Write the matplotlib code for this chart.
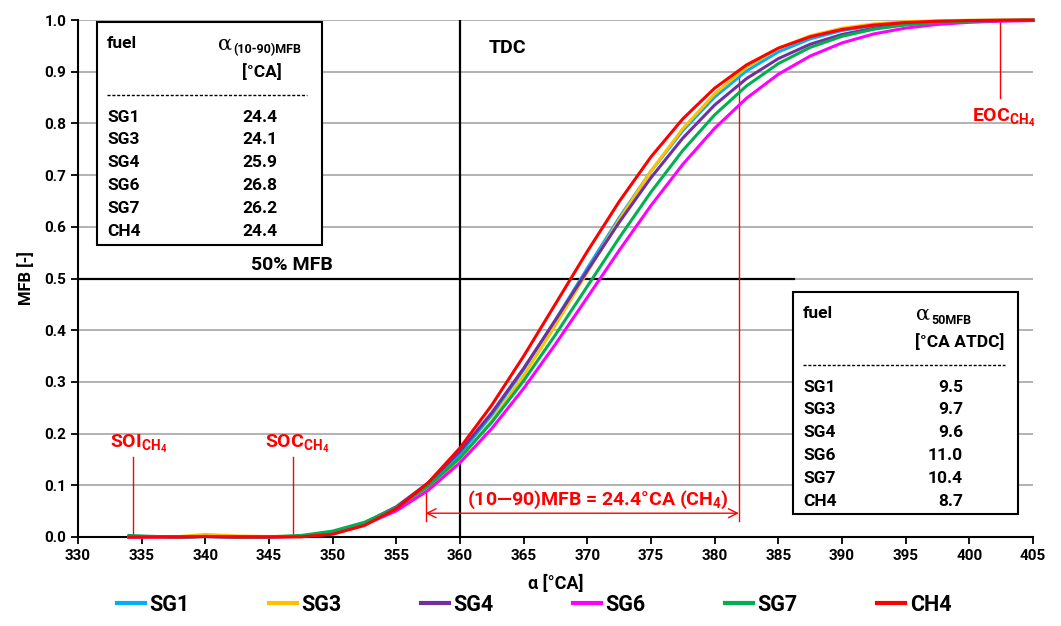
import matplotlib.pyplot as plt
from matplotlib.patches import Rectangle
from matplotlib.lines import Line2D

FONT = 'Roboto'
plt.rcParams['font.family'] = [FONT, 'DejaVu Sans']
plt.rcParams['font.weight'] = 'bold'
plt.rcParams['axes.labelweight'] = 'bold'
plt.rcParams['mathtext.fontset'] = 'custom'
plt.rcParams['mathtext.rm'] = FONT + ':bold'
plt.rcParams['mathtext.it'] = FONT + ':bold'
plt.rcParams['mathtext.bf'] = FONT + ':bold'

# crank angle [deg CA] and mass fraction burned
theta = [334, 336, 338, 340, 342.5, 345, 347.5, 350, 352.5, 355, 357.5, 360,
         362.5, 365, 367.5, 370, 372.5, 375, 377.5, 380, 382.5, 385, 387.5,
         390, 392.5, 395, 397.5, 400, 402.5, 405]

mfb_sg1 = [0, 0.001, 0, 0.001, 0, 0, 0.0016, 0.0089, 0.0258, 0.0555, 0.1002,
           0.1606, 0.2360, 0.3238, 0.4203, 0.5200, 0.6175, 0.7076, 0.7863,
           0.8511, 0.9015, 0.9383, 0.9635, 0.9797, 0.9894, 0.9948, 0.9976,
           0.9990, 0.9996, 0.9999]
mfb_sg3 = [0, 0, 0.001, 0.005, 0.002, 0.001, 0.0020, 0.0091, 0.0247, 0.0521,
           0.0939, 0.1515, 0.2251, 0.3124, 0.4099, 0.5123, 0.6137, 0.7078,
           0.7900, 0.8572, 0.9087, 0.9452, 0.9694, 0.9841, 0.9924, 0.9966,
           0.9986, 0.9995, 0.9998, 1.0]
mfb_sg4 = [0, 0.001, 0, 0.001, 0, 0, 0.0014, 0.0093, 0.0273, 0.0586, 0.1046,
           0.1657, 0.2405, 0.3264, 0.4196, 0.5152, 0.6086, 0.6951, 0.7716,
           0.8356, 0.8867, 0.9253, 0.9531, 0.9720, 0.9841, 0.9914, 0.9956,
           0.9979, 0.9990, 0.9996]
mfb_sg6 = [0, 0, 0, 0.001, 0, 0, 0.0014, 0.0082, 0.0238, 0.0506, 0.0903,
           0.1436, 0.2099, 0.2874, 0.3731, 0.4635, 0.5542, 0.6412, 0.7209,
           0.7906, 0.8487, 0.8951, 0.9303, 0.9557, 0.9731, 0.9844, 0.9914,
           0.9955, 0.9977, 0.9989]
mfb_sg7 = [0.003, 0.001, 0, 0.001, 0, 0.0002, 0.0029, 0.0114, 0.0285, 0.0568,
           0.0982, 0.1534, 0.2221, 0.3023, 0.3913, 0.4849, 0.5785, 0.6673,
           0.7477, 0.8166, 0.8725, 0.9157, 0.9470, 0.9684, 0.9822, 0.9906,
           0.9953, 0.9978, 0.9990, 0.9996]
mfb_ch4 = [0, 0, 0, 0.001, 0, 0, 0.0002, 0.0054, 0.0223, 0.0548, 0.1049,
           0.1724, 0.2553, 0.3499, 0.4510, 0.5525, 0.6488, 0.7354, 0.8089,
           0.8682, 0.9131, 0.9455, 0.9676, 0.9817, 0.9902, 0.9951, 0.9976,
           0.9989, 0.9995, 0.9998]

fuels = ['SG1', 'SG3', 'SG4', 'SG6', 'SG7', 'CH4']
series = [mfb_sg1, mfb_sg3, mfb_sg4, mfb_sg6, mfb_sg7, mfb_ch4]
colors = ['#00B0F0', '#FFC000', '#7030A0', '#FF00FF', '#00B050', '#FF0000']

dur_1090 = ['24.4', '24.1', '25.9', '26.8', '26.2', '24.4']
a50 = ['9.5', '9.7', '9.6', '11.0', '10.4', '8.7']

xticks = list(range(330, 406, 5))
yticks = [i / 10 for i in range(11)]

# combustion markers for CH4
soi, soc, eoc = 334.3, 346.9, 402.4
a10, a90 = 357.3, 381.9

W, H = 1061, 626
fig = plt.figure(figsize=(W / 100, H / 100), dpi=100)
ax = fig.add_axes([78 / W, 1 - 537 / H, (1033 - 78) / W, (537 - 20) / H])


def fx(x):
    return x / W


def fy(y):
    return 1 - y / H


for name, vals, c in zip(fuels, series, colors):
    ax.plot(theta, vals, color=c, lw=2.2, label=name, clip_on=False, zorder=3,
            solid_joinstyle='round')

ax.set_xlim(330, 405)
ax.set_ylim(0, 1.0)
ax.set_xticks(xticks, [str(t) for t in xticks], fontweight='bold',
              fontsize=11)
ax.set_yticks(yticks, ['%.1f' % t for t in yticks], fontweight='bold',
              fontsize=11)
ax.tick_params(length=5, width=1.3, color='black')
ax.grid(axis='y', color='#a6a6a6', lw=1.2)
ax.set_axisbelow(True)
for s in ['top', 'right']:
    ax.spines[s].set_visible(False)
for s in ['left', 'bottom']:
    ax.spines[s].set_linewidth(1.5)
ax.set_xlabel('α [°CA]', fontsize=13, fontweight='bold', labelpad=9)
ax.set_ylabel('MFB [-]', fontsize=12, fontweight='bold', labelpad=7)

# TDC and 50 % lines
ax.plot([360, 360], [0, 1], color='black', lw=1.6, zorder=2)
ax.plot([330, 386.2], [0.5, 0.5], color='black', lw=1.6, zorder=2)
ax.text(363.7, 0.945, 'TDC', fontsize=14, ha='center', va='center')
ax.text(346.8, 0.527, '50% MFB', fontsize=14, ha='center', va='center')

# red annotations
red = '#FF0000'
ax.plot([soi, soi], [0, 0.155], color=red, lw=1)
ax.plot([soc, soc], [0, 0.155], color=red, lw=1)
ax.plot([eoc, eoc], [1.0, 0.85], color=red, lw=1)
ax.plot([a10, a10], [0.1, 0.03], color=red, lw=1)
ax.plot([a90, a90], [0.9, 0.03], color=red, lw=1)
ax.annotate('', xy=(a10, 0.046), xytext=(a90, 0.046),
            arrowprops=dict(arrowstyle='<->', color=red, lw=1,
                            shrinkA=0, shrinkB=0, mutation_scale=16))
ax.text(370.8, 0.072, '(10—90)MFB = 24.4°CA (CH$_4$)', color=red,
        fontsize=14, ha='center', va='center')
ax.text(soi + 0.5, 0.18, 'SOI$_{\\mathrm{CH}_4}$', color=red, fontsize=14,
        ha='center', va='center')
ax.text(soc + 0.3, 0.18, 'SOC$_{\\mathrm{CH}_4}$', color=red, fontsize=14,
        ha='center', va='center')
ax.text(eoc + 0.3, 0.81, 'EOC$_{\\mathrm{CH}_4}$', color=red, fontsize=14,
        ha='center', va='center')


# tables
def table(x0, y0, x1, y1, sub, unit, values, val_x, val_ha, alpha_x, dash_x1):
    fig.add_artist(Rectangle((fx(x0), fy(y1)), fx(x1 - x0), (y1 - y0) / H,
                             facecolor='white', edgecolor='black', lw=1.5,
                             zorder=5))
    fig.text(fx(x0 + 10), fy(y0 + 21), 'fuel', fontsize=12.5, va='center',
             zorder=6)
    fig.text(fx(alpha_x), fy(y0 + 22), 'α', fontsize=15, fontweight='normal',
             family=['DejaVu Serif'], ha='right', va='center', zorder=6)
    fig.text(fx(alpha_x + 1), fy(y0 + 28), sub, fontsize=9, ha='left',
             va='center', zorder=6)
    fig.text(fx(alpha_x + 30), fy(y0 + 50), unit, fontsize=12.5, ha='center',
             va='center', zorder=6)
    fig.add_artist(Line2D([fx(x0 + 10), fx(dash_x1)], [fy(y0 + 73)] * 2,
                          color='black', lw=1, ls=(0, (2.2, 1.3)), zorder=6))
    for i, (f, v) in enumerate(zip(fuels, values)):
        yy = fy(y0 + 95 + i * 22.8)
        fig.text(fx(x0 + 10), yy, f, fontsize=12.5, va='center', zorder=6)
        fig.text(fx(val_x), yy, v, fontsize=12.5, ha=val_ha, va='center',
                 zorder=6)


table(97, 22, 322, 245, '(10-90)MFB', '[°CA]', dur_1090, 260, 'center', 232, 307)
table(793, 292, 1018, 514, '50MFB', '[°CA ATDC]', a50, 963, 'right', 930, 1005)

handles = [Line2D([], [], color=c, lw=3) for c in colors]
fig.legend(handles, fuels, loc='center', bbox_to_anchor=(fx(534), fy(605)),
           ncol=6, frameon=False, handlelength=1.3, handletextpad=0.2,
           columnspacing=3.7, prop={'weight': 'bold', 'size': 15.5})

fig.savefig('out.png', dpi=100)
